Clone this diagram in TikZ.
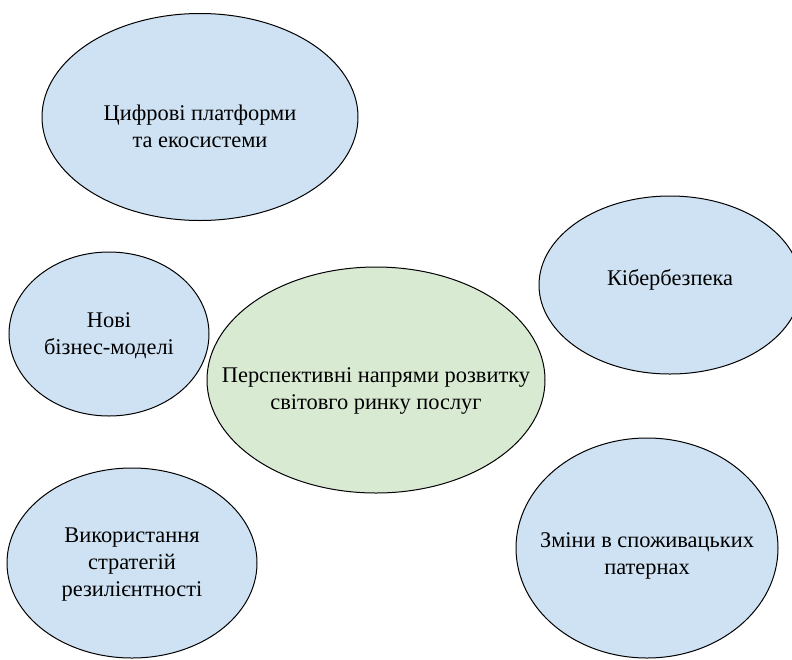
\documentclass[tikz,border=0pt]{standalone}
\usepackage{fontspec}
\setmainfont{Liberation Serif}
\newfontfamily\ideafont{Liberation Serif}
\definecolor{ideablue}{RGB}{207,226,243}
\definecolor{ideagreen}{RGB}{217,234,211}
\usetikzlibrary{shapes.geometric}
\tikzset{
  idea/.style={ellipse, draw, line width=1pt, fill=ideablue, inner sep=0pt},
  core/.style={idea, fill=ideagreen},
  txt/.style={align=center, inner sep=0pt, font=\ideafont\fontsize{22.4}{27}\selectfont}
}

\begin{document}
\begin{tikzpicture}[x=1pt,y=-1pt]
  \useasboundingbox (0,0) rectangle (792,659);

  % centre
  \node [core, minimum width=338pt, minimum height=226pt] (core) at (376,380) {};
  \node [txt, yshift=-11pt] (core-t) at (core)
    {Перспективні напрями розвитку\\ світовго ринку послуг};

  % directions around it
  \node [idea, minimum width=316pt, minimum height=207pt] (platforms) at (200,117) {};
  \node [txt, yshift=-9pt] (platforms-t) at (platforms) {Цифрові платформи\\ та екосистеми};
  \node [idea, minimum width=200pt, minimum height=164pt] (models) at (109,334) {};
  \node [txt, yshift=-2pt] (models-t) at (models) {Нові\\ бізнес-моделі};
  \node [idea, minimum width=250pt, minimum height=190pt] (resilience) at (132,563) {};
  \node [txt, yshift=-2pt] (resilience-t) at (resilience)
    {Використання\\ стратегій\\ резилієнтності};
  \node [idea, minimum width=262pt, minimum height=178pt] (cyber) at (670,285) {};
  \node [txt, yshift=5pt] (cyber-t) at (cyber) {Кібербезпека};
  \node [idea, minimum width=262pt, minimum height=220pt] (patterns) at (647,548) {};
  \node [txt, yshift=-8pt] (patterns-t) at (patterns) {Зміни в споживацьких\\ патернах};
\end{tikzpicture}
\end{document}
